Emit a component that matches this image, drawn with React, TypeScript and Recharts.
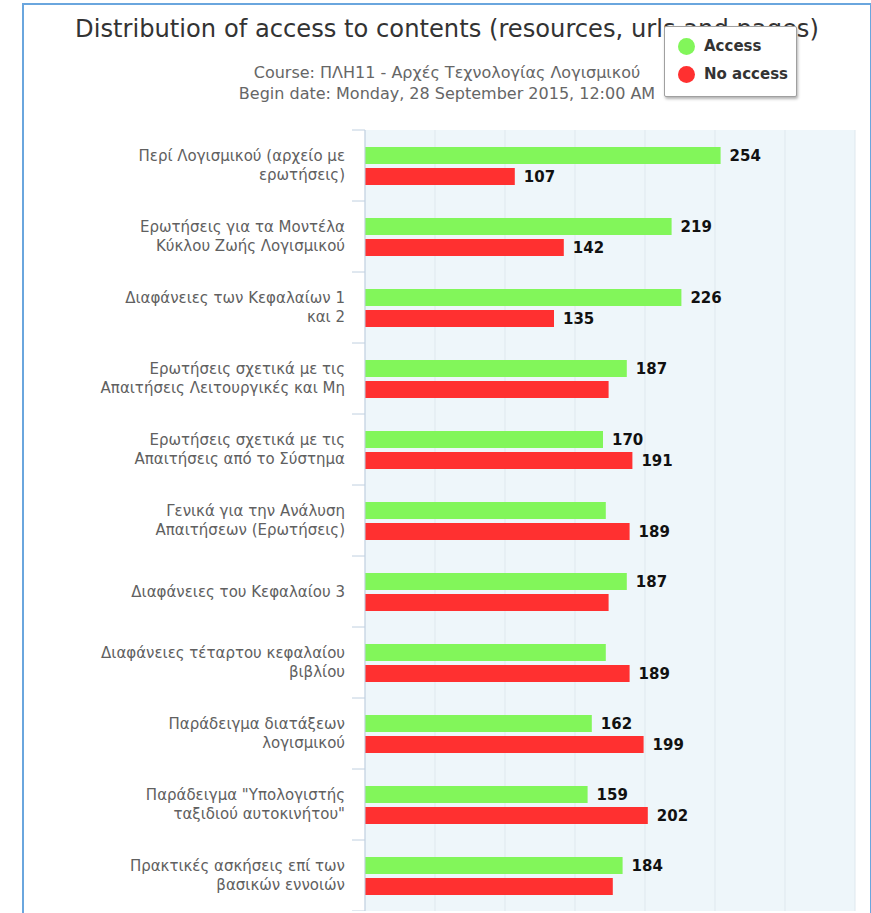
import { Bar, BarChart, CartesianGrid, LabelList, XAxis, YAxis } from "recharts";

const categories = [
  "Περί Λογισμικού (αρχείο με\nερωτήσεις)",
  "Ερωτήσεις για τα Μοντέλα\nΚύκλου Ζωής Λογισμικού",
  "Διαφάνειες των Κεφαλαίων 1\nκαι 2",
  "Ερωτήσεις σχετικά με τις\nΑπαιτήσεις Λειτουργικές και Μη",
  "Ερωτήσεις σχετικά με τις\nΑπαιτήσεις από το Σύστημα",
  "Γενικά για την Ανάλυση\nΑπαιτήσεων (Ερωτήσεις)",
  "Διαφάνειες του Κεφαλαίου 3",
  "Διαφάνειες τέταρτου κεφαλαίου\nβιβλίου",
  "Παράδειγμα διατάξεων\nλογισμικού",
  "Παράδειγμα \"Υπολογιστής\nταξιδιού αυτοκινήτου\"",
  "Πρακτικές ασκήσεις επί των\nβασικών εννοιών",
];
const accessValues = [254, 219, 226, 187, 170, 172, 187, 172, 162, 159, 184];
const noAccessValues = [107, 142, 135, 174, 191, 189, 174, 189, 199, 202, 177];
// labels that the original chart did not print
const hiddenAccessLabels = [5, 7];
const hiddenNoAccessLabels = [3, 6, 10];
const xTicks = [0, 50, 100, 150, 200, 250, 300, 350];

const W = 871;
const H = 911;
const PLOT_TOP = 130;
const PLOT_LEFT = 365;
const BAND = (H - PLOT_TOP) / categories.length;

const data = categories.map((name, i) => ({
  name,
  access: accessValues[i],
  noAccess: noAccessValues[i],
  accessLabel: hiddenAccessLabels.includes(i) ? null : accessValues[i],
  noAccessLabel: hiddenNoAccessLabels.includes(i) ? null : noAccessValues[i],
}));

function CategoryTick(props: any) {
  const { y, payload, index } = props;
  const lines = String(payload.value).split("\n");
  const lh = 19;
  const y0 = y - ((lines.length - 1) * lh) / 2;
  return (
    <g>
      <line x1={PLOT_LEFT - 13} x2={PLOT_LEFT} y1={y - BAND / 2} y2={y - BAND / 2} stroke="#c0d0e0" />
      {index === categories.length - 1 && (
        <line x1={PLOT_LEFT - 13} x2={PLOT_LEFT} y1={y + BAND / 2} y2={y + BAND / 2} stroke="#c0d0e0" />
      )}
      <text textAnchor="end" fill="#606060" fontSize={15} fontFamily="DejaVu Sans, sans-serif">
        {lines.map((l, i) => (
          <tspan key={i} x={PLOT_LEFT - 20} y={y0 + i * lh} dy="0.35em">
            {l}
          </tspan>
        ))}
      </text>
    </g>
  );
}

function ValueLabel(props: any) {
  const { x, y, width, height, value } = props;
  if (value == null) return null;
  return (
    <text
      x={Number(x) + Number(width) + 9}
      y={Number(y) + Number(height) / 2}
      dy="0.35em"
      fill="#111"
      fontSize={15}
      fontWeight="bold"
      fontFamily="DejaVu Sans, sans-serif"
    >
      {value}
    </text>
  );
}

const legendItems = [
  { label: "Access", color: "#82f65a" },
  { label: "No access", color: "#ff3030" },
];

export default function App() {
  return (
    <div
      style={{
        position: "absolute",
        left: 0,
        top: 0,
        width: W,
        height: 913,
        overflow: "hidden",
        background: "#fff",
        fontFamily: "DejaVu Sans, sans-serif",
      }}
    >
      <div
        style={{
          position: "absolute",
          left: 22,
          top: 3,
          width: 846,
          height: 960,
          border: "2px solid #6aa6de",
        }}
      />
      <div style={{ position: "absolute", left: 0, top: 0 }}>
        <BarChart
          width={W}
          height={H}
          data={data}
          layout="vertical"
          margin={{ top: PLOT_TOP, right: 16, bottom: 0, left: 0 }}
          barSize={17}
          barGap={4}
        >
          <CartesianGrid horizontal={false} stroke="#dfe8ee" fill="#eef6fa" />
          <XAxis type="number" domain={[0, 350]} ticks={xTicks} hide />
          <YAxis
            type="category"
            dataKey="name"
            width={PLOT_LEFT}
            tickLine={false}
            axisLine={{ stroke: "#c0d0e0" }}
            tick={<CategoryTick />}
            interval={0}
          />
          <Bar dataKey="access" fill="#82f65a" isAnimationActive={false}>
            <LabelList dataKey="accessLabel" content={<ValueLabel />} />
          </Bar>
          <Bar dataKey="noAccess" fill="#ff3030" isAnimationActive={false}>
            <LabelList dataKey="noAccessLabel" content={<ValueLabel />} />
          </Bar>
        </BarChart>
      </div>
      <div
        style={{
          position: "absolute",
          left: 0,
          width: 894,
          top: 15,
          textAlign: "center",
          fontSize: 24.2,
          color: "#333",
          whiteSpace: "nowrap",
        }}
      >
        Distribution of access to contents (resources, urls and pages)
      </div>
      <div
        style={{
          position: "absolute",
          left: 0,
          width: 894,
          top: 62,
          textAlign: "center",
          fontSize: 16,
          lineHeight: "21px",
          color: "#666",
          whiteSpace: "nowrap",
        }}
      >
        <div>Course: ΠΛΗ11 - Αρχές Τεχνολογίας Λογισμικού</div>
        <div>Begin date: Monday, 28 September 2015, 12:00 AM</div>
      </div>
      <div
        style={{
          position: "absolute",
          left: 664,
          top: 26,
          width: 131,
          height: 69,
          background: "#fff",
          border: "1px solid #a0a0a0",
          borderRadius: 2,
          boxShadow: "1px 2px 3px rgba(0,0,0,0.3)",
        }}
      >
        {legendItems.map((it, i) => (
          <div
            key={it.label}
            style={{
              position: "absolute",
              left: 13,
              top: 10 + i * 28,
              display: "flex",
              alignItems: "center",
              whiteSpace: "nowrap",
            }}
          >
            <span
              style={{
                width: 17,
                height: 17,
                borderRadius: "50%",
                background: it.color,
                display: "inline-block",
                marginRight: 9,
              }}
            />
            <span style={{ fontSize: 15, fontWeight: "bold", color: "#333" }}>{it.label}</span>
          </div>
        ))}
      </div>
    </div>
  );
}
